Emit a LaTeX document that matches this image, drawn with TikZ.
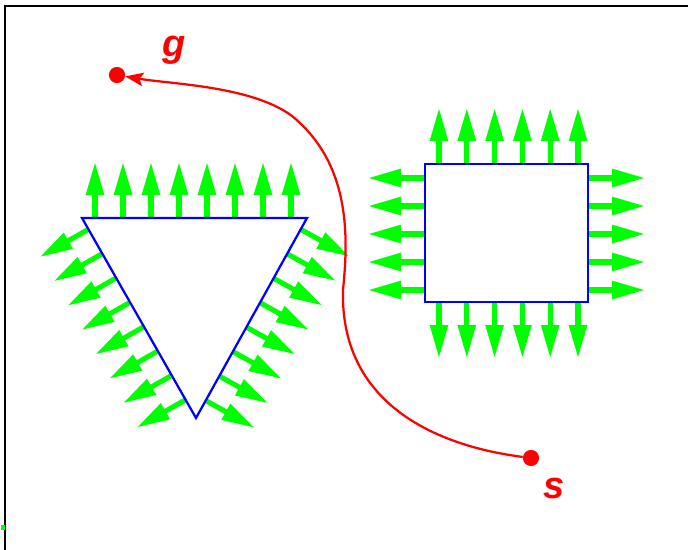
\documentclass[tikz,border=0pt]{standalone}
\usepackage{fontspec}
\newfontfamily\labelfont{Liberation Sans}
\usetikzlibrary{arrows.meta,calc}
\begin{document}
\begin{tikzpicture}[x=0.025cm, y=-0.025cm, frame/.style={line width=1.8pt, black}, wall/.style={line width=1.6pt, blue, line join=miter}, field/.style={-{Triangle[length=23.4pt, width=12.2pt]}, line width=3.6pt, green}, route/.style={-{Stealth[length=12.8pt, width=9.6pt, inset=2.5pt]}, line width=1.6pt, red}, dot/.style={circle, fill=red, inner sep=0pt, minimum size=11.5pt}, lbl/.style={font=\labelfont\fontsize{27}{27}\selectfont\bfseries\itshape, text=red, inner sep=0pt}]
\useasboundingbox (0,0) rectangle (688,550);
% frame
\draw[frame] (5,550) -- (5,6) -- (688,6);
\fill[green] (1.5,525) rectangle (4.5,530);
% triangle obstacle
\coordinate (tl) at (82,218);
\coordinate (tr) at (307,218);
\coordinate (bt) at (196,418);
\foreach \i in {0,...,7}{
  \draw[field] ($(tl)!{(13+28*\i)/225}!(tr)$) -- ++(0,-56);
  \draw[field] ($(tl)!{(13+28*\i)/230}!(bt)$) -- ++(-48.7,27.7);
  \draw[field] ($(tr)!{(13+28*\i)/229}!(bt)$) -- ++(48.9,27.2);
}
\draw[wall] (tl) -- (tr) -- (bt) -- cycle;
% box obstacle
\coordinate (bl) at (425,164);
\coordinate (br) at (588,302);
\foreach \i in {0,...,5}{
  \draw[field] (439+27.8*\i,164) -- ++(0,-56);
  \draw[field] (439+27.8*\i,302) -- ++(0,56);
}
\foreach \i in {0,...,4}{
  \draw[field] (425,178+28*\i) -- ++(-57,0);
  \draw[field] (588,178+28*\i) -- ++(57,0);
}
\draw[wall] (bl) rectangle (br);
% start, goal and path
\node[dot] (s) at (531,458) {};
\node[dot] (g) at (117,75) {};
\node[lbl, anchor=base] (slabel) at (554,498) {s};
\node[lbl, anchor=base] (glabel) at (174,57) {g};
\coordinate (m1) at (343,290);
\coordinate (m2) at (292,116);
\draw[route] (s) .. controls (430,445) and (340,400) .. (m1)
  .. controls (348,240) and (352,165) .. (m2)
  .. controls (252,86) and (170,84) .. (g);
\end{tikzpicture}
\end{document}
